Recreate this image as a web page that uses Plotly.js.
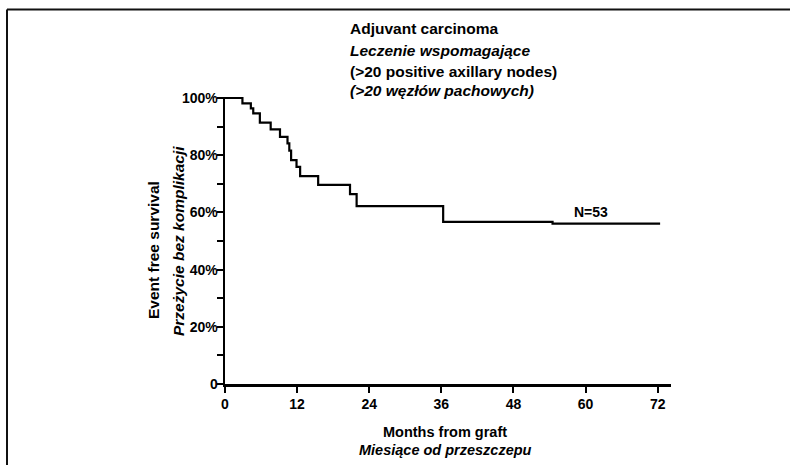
<!DOCTYPE html>
<html>
<head>
<meta charset="utf-8">
<script src="https://cdn.plot.ly/plotly-3.0.1.min.js"></script>
<style>
  html, body { margin: 0; padding: 0; background: #fff; }
  #chart { width: 790px; height: 465px; }
</style>
</head>
<body>
<div id="chart"></div>
<script>
// Kaplan-Meier curve (months, event-free survival fraction)
var months = [0, 2.9, 4.3, 4.7, 5.8, 7.6, 9.15, 10.4, 10.7, 11.0, 11.9, 12.5, 15.5, 20.8, 21.9, 36.3, 54.5, 72.4];
var survival = [1.0, 0.981, 0.964, 0.946, 0.914, 0.890, 0.864, 0.841, 0.816, 0.783, 0.759, 0.727, 0.696, 0.664, 0.622, 0.567, 0.561, 0.561];

var xTickVals = [0, 12, 24, 36, 48, 60, 72];
var xTickText = ["0", "12", "24", "36", "48", "60", "72"];
var yTickVals = [0, 0.2, 0.4, 0.6, 0.8, 1.0];
var yTickText = ["0", "20%", "40%", "60%", "80%", "100%"];

var titleLines = [
  {text: "Adjuvant carcinoma", italic: false},
  {text: "Leczenie wspomagające", italic: true},
  {text: "(>20 positive axillary nodes)", italic: false},
  {text: "(>20 węzłów pachowych)", italic: true}
];
var xTitleLines = ["Months from graft", "Miesiące od przeszczepu"];
var yTitleLines = ["Event free survival", "Przeżycie bez komplikacji"];
var nLabel = "N=53";

// Layout geometry (pixels)
var W = 790, H = 465;
var L = 225, R = 671, T = 97, B = 384;
var pw = R - L, ph = B - T;
function px2x(p) { return (p - L) / pw; }
function py2y(p) { return (B - p) / ph; }

var FONT = "Liberation Sans, Arial, Helvetica, sans-serif";

function wrapItalic(s, it) { return it ? "<i>" + s + "</i>" : s; }

var annotations = [];
var titleY = [29, 50, 71, 91];
titleLines.forEach(function (ln, i) {
  annotations.push({
    xref: "paper", yref: "paper", x: px2x(348), y: py2y(titleY[i]),
    xanchor: "left", yanchor: "middle", showarrow: false,
    text: wrapItalic(ln.text, ln.italic),
    font: {family: FONT, size: 15.5, color: "#000", weight: "bold"}
  });
});
var xTitleY = [432, 450];
xTitleLines.forEach(function (t, i) {
  annotations.push({
    xref: "paper", yref: "paper", x: px2x(445), y: py2y(xTitleY[i]),
    xanchor: "center", yanchor: "middle", showarrow: false,
    text: wrapItalic(t, i === 1),
    font: {family: FONT, size: 14.5, color: "#000", weight: "bold"}
  });
});
var yTitleX = [153, 178];
var yTitleYc = [250, 241];
yTitleLines.forEach(function (t, i) {
  annotations.push({
    xref: "paper", yref: "paper", x: px2x(yTitleX[i]), y: py2y(yTitleYc[i]),
    xanchor: "center", yanchor: "middle", showarrow: false, textangle: -90,
    text: wrapItalic(t, i === 1),
    font: {family: FONT, size: 15.5, color: "#000", weight: "bold"}
  });
});
annotations.push({
  xref: "x", yref: "y", x: 60.9, y: 0.603, xanchor: "center", yanchor: "middle",
  showarrow: false, text: nLabel, font: {family: FONT, size: 14, color: "#000", weight: "bold"}
});

var shapes = [
  // frame: top and left border lines
  {type: "line", xref: "paper", yref: "paper",
   x0: px2x(7), x1: px2x(792), y0: py2y(9.5), y1: py2y(9.5),
   line: {color: "#111", width: 2}},
  {type: "line", xref: "paper", yref: "paper",
   x0: px2x(7), x1: px2x(7), y0: py2y(9.5), y1: py2y(470),
   line: {color: "#111", width: 2}}
];

var trace = {
  x: months, y: survival, type: "scatter", mode: "lines",
  line: {shape: "hv", color: "#000", width: 2.2},
  hoverinfo: "skip", showlegend: false
};

var layout = {
  width: W, height: H,
  margin: {l: L, r: W - R, t: T, b: H - B, pad: 0},
  paper_bgcolor: "#fff", plot_bgcolor: "#fff",
  showlegend: false,
  font: {family: FONT, size: 14, color: "#000"},
  xaxis: {
    range: [0, pw / 6.01], showgrid: false, zeroline: false,
    showline: true, linecolor: "#000", linewidth: 2.5,
    ticks: "outside", ticklen: 6, tickwidth: 2, tickcolor: "#000",
    tickvals: xTickVals, ticktext: xTickText,
    tickfont: {family: FONT, size: 14, color: "#000", weight: "bold"},
    fixedrange: true
  },
  yaxis: {
    range: [0, ph / 286], showgrid: false, zeroline: false,
    showline: true, linecolor: "#000", linewidth: 2.5,
    ticks: "outside", ticklen: 6, tickwidth: 2, tickcolor: "#000",
    tickvals: yTickVals, ticktext: yTickText,
    ticklabelstandoff: -4,
    tickfont: {family: FONT, size: 14, color: "#000", weight: "bold"},
    minor: {tickvals: [0.1, 0.3, 0.5, 0.7, 0.9], ticks: "outside", ticklen: 6, tickwidth: 2, tickcolor: "#000", showgrid: false},
    fixedrange: true
  },
  annotations: annotations,
  shapes: shapes
};

Plotly.newPlot("chart", [trace], layout, {displayModeBar: false, staticPlot: true});
</script>
</body>
</html>
